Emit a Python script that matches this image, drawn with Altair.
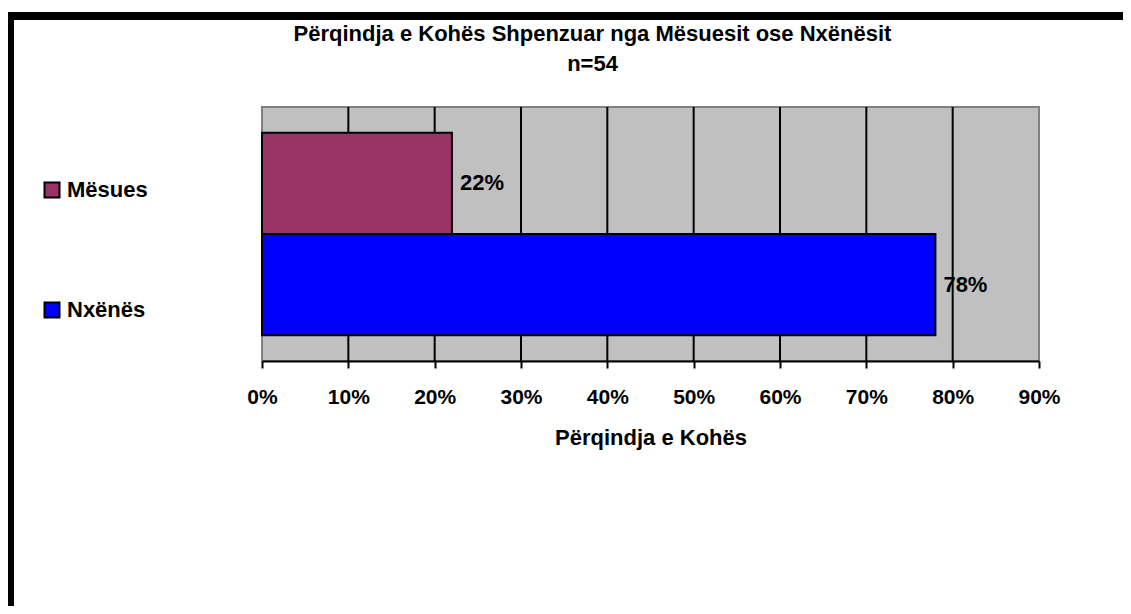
import altair as alt
import pandas as pd

# ---- data ----
series = ["Mësues", "Nxënës"]
shares = [0.22, 0.78]
colors = ["#993366", "#0000FF"]
tick_values = [0, 0.1, 0.2, 0.3, 0.4, 0.5, 0.6, 0.7, 0.8, 0.9]
grid_values = [0.1, 0.2, 0.3, 0.4, 0.5, 0.6, 0.7, 0.8]
title_lines = ["Përqindja e Kohës Shpenzuar nga Mësuesit ose Nxënësit", "n=54"]
x_title = "Përqindja e Kohës"

FONT = "Liberation Sans"

df = pd.DataFrame({"seri": series, "vlera": shares})
grid_df = pd.DataFrame({"v": grid_values})
frame_df = pd.DataFrame({"k": [0]})

x_scale = alt.Scale(domain=[0, 0.9], nice=False, zero=True)
y_scale = alt.Scale(domain=series, paddingInner=0, paddingOuter=0.255)

x_axis = alt.Axis(
    values=tick_values,
    format=".0%",
    title=x_title,
    grid=False,
    labelFlush=False,
    labelOverlap=False,
)

grid = alt.Chart(grid_df).mark_rule(color="black", strokeWidth=2).encode(
    x=alt.X("v:Q", scale=x_scale, axis=x_axis, title=x_title)
)

bars = alt.Chart(df).mark_bar(stroke="black", strokeWidth=2).encode(
    x=alt.X("vlera:Q", scale=x_scale, axis=x_axis, title=x_title),
    y=alt.Y("seri:N", scale=y_scale, sort=series, axis=None),
    color=alt.Color(
        "seri:N",
        scale=alt.Scale(domain=series, range=colors),
        legend=alt.Legend(
            title=None,
            orient="none",
            legendX=-221,
            legendY=72,
            symbolType="square",
            symbolSize=225,
            symbolStrokeWidth=2,
            symbolStrokeColor="black",
            symbolOpacity=1,
            labelFont=FONT,
            labelFontSize=22,
            labelFontWeight="bold",
            labelColor="black",
            labelOffset=4,
            rowPadding=96,
            padding=0,
        ),
    ),
)

labels = alt.Chart(df).mark_text(
    align="left", baseline="middle", dx=8,
    font=FONT, fontSize=22, fontWeight="bold", color="black",
).encode(
    x=alt.X("vlera:Q", scale=x_scale, axis=x_axis, title=x_title),
    y=alt.Y("seri:N", scale=y_scale, sort=series, axis=None),
    text=alt.Text("vlera:Q", format=".0%"),
)

top_border = alt.Chart(frame_df).mark_rule(color="black", strokeWidth=8).encode(
    x=alt.value(-256), x2=alt.value(880), y=alt.value(-91)
)
left_border = alt.Chart(frame_df).mark_rule(color="black", strokeWidth=8).encode(
    x=alt.value(-252), y=alt.value(-95), y2=alt.value(510)
)

chart = alt.layer(grid, bars, labels, top_border, left_border).properties(
    width=777,
    height=254,
    padding={"left": 254, "top": 99, "right": 84, "bottom": 245},
    autosize=alt.AutoSizeParams(type="none"),
    title=alt.TitleParams(
        text=title_lines,
        font=FONT,
        fontSize=22,
        fontWeight="bold",
        color="black",
        anchor="middle",
        frame="group",
        dx=-58,
        offset=-68,
        lineHeight=30,
    ),
).configure(background="white").configure_view(
    fill="#C0C0C0", stroke="#808080", strokeWidth=2
).configure_axis(
    labelFont=FONT,
    labelFontSize=21,
    labelFontWeight="bold",
    labelColor="black",
    labelPadding=18,
    tickColor="black",
    tickWidth=2,
    tickSize=7,
    domainColor="black",
    domainWidth=2,
    titleFont=FONT,
    titleFontSize=22,
    titleFontWeight="bold",
    titleColor="black",
    titlePadding=20,
)

chart.save("out.html", embed_options={"renderer": "svg", "actions": False})
